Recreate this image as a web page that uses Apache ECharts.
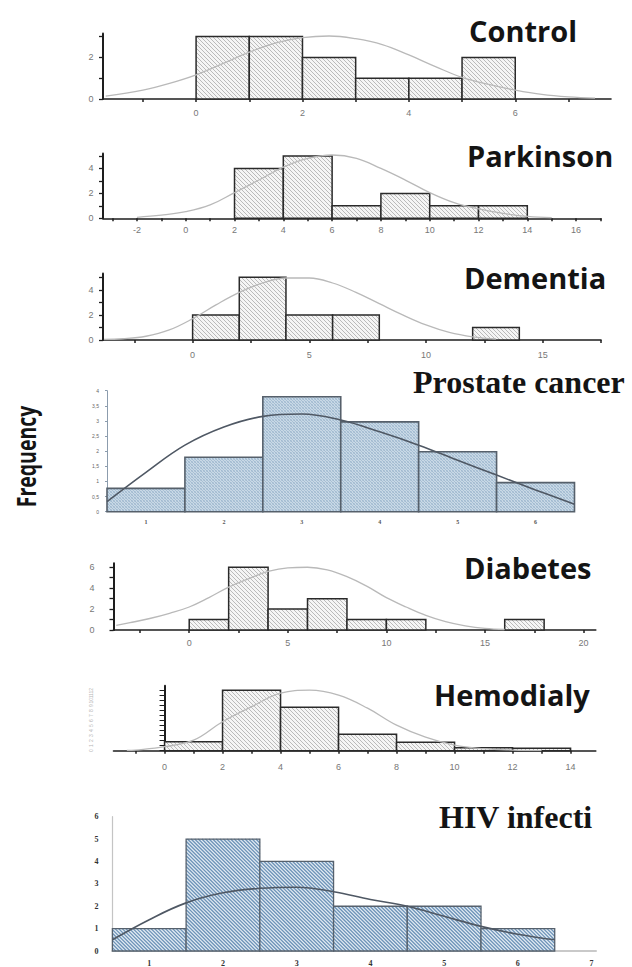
<!DOCTYPE html>
<html><head><meta charset="utf-8">
<script src="https://cdn.jsdelivr.net/npm/echarts@6/dist/echarts.min.js"></script>
<style>html,body{margin:0;padding:0;background:#fff}#c{width:632px;height:967px}</style>
</head><body><div id="c"></div>
<script>
// ---------------- data ----------------
const controlStarts = [0, 1, 2, 3, 4, 5];
const controlWidth = 1;
const controlCounts = [3, 3, 2, 1, 1, 2];
const controlCurve = [[-1.7,0.14],[-1,0.43],[-0.5,0.75],[0,1.16],[0.5,1.7],[1,2.25],[1.5,2.7],[2,2.95],[2.5,3.03],[3,2.9],[3.5,2.62],[4,2.12],[4.5,1.56],[5,1.04],[5.5,0.7],[6,0.43],[6.5,0.22],[7,0.1],[7.5,0.04]];
const controlXTicks = [-1, 0, 1, 2, 3, 4, 5, 6, 7];
const controlXLabels = [0, 2, 4, 6];
const controlYTicks = [0, 1, 2, 3];
const controlYLabels = [0, 2];

const parkinsonStarts = [2, 4, 6, 8, 10, 12];
const parkinsonWidth = 2;
const parkinsonCounts = [4, 5, 1, 2, 1, 1];
const parkinsonCurve = [[-2,0.08],[-1,0.25],[0,0.53],[1,1.07],[2,2.06],[3,3.07],[4,4.1],[5,4.8],[6,5.08],[7,4.81],[8,4.0],[9,3.07],[10,2.06],[11,1.25],[12,0.75],[13,0.4],[14,0.15],[15,0.05]];
const parkinsonXTicks = [-3,-2,-1,0,1,2,3,4,5,6,7,8,9,10,11,12,13,14,15,16,17];
const parkinsonXLabels = [-2, 0, 2, 4, 6, 8, 10, 12, 14, 16];
const parkinsonYTicks = [0, 1, 2, 3, 4, 5];
const parkinsonYLabels = [0, 2, 4];

const dementiaStarts = [0, 2, 4, 6, 12];
const dementiaWidth = 2;
const dementiaCounts = [2, 5, 2, 2, 1];
const dementiaCurve = [[-3.8,0.05],[-3,0.1],[-2,0.3],[-1,0.8],[0,1.7],[1,2.8],[2,3.8],[3,4.55],[4,4.95],[5,4.95],[6,4.55],[7,3.8],[8,2.9],[9,2.0],[10,1.2],[11,0.6],[12,0.25],[13,0.08]];
const dementiaXTicks = [-2.5, 0, 2.5, 5, 7.5, 10, 12.5, 15, 17.5];
const dementiaXLabels = [0, 5, 10, 15];
const dementiaYTicks = [0, 1, 2, 3, 4, 5];
const dementiaYLabels = [0, 2, 4];

const prostateStarts = [0.5, 1.5, 2.5, 3.5, 4.5, 5.5];
const prostateWidth = 1;
const prostateCounts = [0.77, 1.8, 3.8, 2.97, 1.98, 0.96];
const prostateCurve = [[0.5,0.33],[1,1.3],[1.5,2.2],[2,2.8],[2.5,3.15],[3,3.23],[3.5,3.03],[4,2.64],[4.5,2.2],[5,1.7],[5.5,1.21],[6,0.72],[6.5,0.25]];
const prostateXLabels = [1, 2, 3, 4, 5, 6];
const prostateYTicks = [0, 0.5, 1, 1.5, 2, 2.5, 3, 3.5, 4];

const diabetesStarts = [0, 2, 4, 6, 8, 10, 16];
const diabetesWidth = 2;
const diabetesCounts = [1, 6, 2, 3, 1, 1, 1];
const diabetesCurve = [[-3.7,0.45],[-3,0.7],[-2,1.1],[-1,1.6],[0,2.2],[1,3.1],[2,4.1],[3,4.9],[4,5.6],[5,5.95],[6,6.0],[7,5.75],[8,5.1],[9,4.2],[10,3.1],[11,2.2],[12,1.4],[13,0.8],[14,0.4],[15,0.15],[16,0.05]];
const diabetesXTicks = [-2.5, 0, 2.5, 5, 7.5, 10, 12.5, 15, 17.5, 20];
const diabetesXLabels = [0, 5, 10, 15, 20];
const diabetesYTicks = [0, 1, 2, 3, 4, 5, 6];
const diabetesYLabels = [0, 2, 4, 6];

const hemoStarts = [0, 2, 4, 6, 8, 10, 12];
const hemoWidth = 2;
const hemoCounts = [1.8, 12.1, 8.7, 3.3, 1.7, 0.6, 0.5];
const hemoCurve = [[-1.3,0.05],[-1,0.13],[0,0.8],[1,2.1],[2,5.8],[3,8.8],[4,11.5],[5,12.1],[6,11.1],[7,8.5],[8,5.1],[9,2.7],[10,1.1],[11,0.4],[12,0.13],[13,0.03]];
const hemoXTicks = [-1,0,1,2,3,4,5,6,7,8,9,10,11,12,13,14];
const hemoXLabels = [0, 2, 4, 6, 8, 10, 12, 14];
const hemoYTicks = [0,1,2,3,4,5,6,7,8,9,10,11,12,13];

const hivStarts = [0.5, 1.5, 2.5, 3.5, 4.5, 5.5];
const hivWidth = 1;
const hivCounts = [1, 5, 4, 2, 2, 1];
const hivCurve = [[0.5,0.5],[1,1.4],[1.5,2.15],[2,2.6],[2.5,2.8],[3,2.85],[3.5,2.65],[4,2.3],[4.5,2.0],[5,1.55],[5.5,1.1],[6,0.75],[6.5,0.5]];
const hivXLabels = [1, 2, 3, 4, 5, 6, 7];
const hivYLabels = [0, 1, 2, 3, 4, 5, 6];

const panelTitles = ['Control', 'Parkinson', 'Dementia', 'Prostate cancer', 'Diabetes', 'Hemodialysis', 'HIV infection'];
const yAxisTitle = 'Frequency';

// ---------------- helpers ----------------
function hatchPath(x0, y0, x1, y1, sp, dir) {
  let d = '';
  if (dir > 0) { // '\'  y = x + c
    const cmin = y0 - x1, cmax = y1 - x0;
    for (let c = Math.ceil(cmin / sp) * sp; c <= cmax; c += sp) {
      const xa = Math.max(x0, y0 - c), xb = Math.min(x1, y1 - c);
      if (xb > xa) d += 'M' + xa.toFixed(2) + ' ' + (xa + c).toFixed(2) + 'L' + xb.toFixed(2) + ' ' + (xb + c).toFixed(2);
    }
  } else { // '/'  y = -x + c
    const cmin = x0 + y0, cmax = x1 + y1;
    for (let c = Math.ceil(cmin / sp) * sp; c <= cmax; c += sp) {
      const xa = Math.max(x0, c - y1), xb = Math.min(x1, c - y0);
      if (xb > xa) d += 'M' + xa.toFixed(2) + ' ' + (c - xa).toFixed(2) + 'L' + xb.toFixed(2) + ' ' + (c - xb).toFixed(2);
    }
  }
  return d;
}

function makeRender(st) {
  return function (params, api) {
    const a = api.coord([api.value(0), api.value(2)]);
    const b = api.coord([api.value(1), 0]);
    const x0 = a[0], y0 = a[1], x1 = b[0], y1 = b[1];
    const shape = { x: x0, y: y0, width: x1 - x0, height: y1 - y0 };
    const children = [{ type: 'rect', shape: shape, style: { fill: st.fill } }];
    st.hatch.forEach(function (h) {
      const d = hatchPath(x0, y0, x1, y1, h.sp, h.dir);
      if (d) children.push({ type: 'path', shape: { pathData: d }, style: { stroke: h.color, lineWidth: h.lw, fill: null } });
    });
    children.push({ type: 'rect', shape: shape, style: { fill: null, stroke: st.stroke, lineWidth: st.lw } });
    return { type: 'group', children: children };
  };
}

const grayStyle = { fill: '#f5f5f5', stroke: '#2a2a2a', lw: 1.5, hatch: [{ sp: 4, dir: 1, color: '#a0a0a0', lw: 0.7 }] };
const prostateStyle = { fill: '#c9d9e6', stroke: '#56606b', lw: 1.6, hatch: [{ sp: 3, dir: 1, color: '#98b3ca', lw: 0.8 }, { sp: 3, dir: -1, color: '#a9c2d6', lw: 0.7 }] };
const hivStyle = { fill: '#e2ebf3', stroke: '#56616d', lw: 1.3, hatch: [{ sp: 3.6, dir: 1, color: '#6d93b8', lw: 1.3 }] };

const grids = [
  { left: 103, top: 33.5, width: 508, height: 65.5 },
  { left: 103, top: 153.5, width: 498, height: 64.8 },
  { left: 103, top: 273.6, width: 498, height: 66.4 },
  { left: 107, top: 390.7, width: 467.5, height: 121 },
  { left: 113.5, top: 563.3, width: 482.3, height: 66.7 },
  { left: 113.5, top: 685.7, width: 482.3, height: 65 },
  { left: 112.4, top: 816.7, width: 483.6, height: 134.3 }
];

const lblFont = { fontFamily: 'Liberation Sans', fontSize: 9, color: '#777' };

function grayX(gi, min, max, ticks, labels, margin) {
  return { gridIndex: gi, type: 'value', min: min, max: max,
    axisLine: { onZero: false, lineStyle: { color: '#1e1e1e', width: 1.6 } },
    axisTick: { show: true, customValues: ticks, length: 3, lineStyle: { color: '#1e1e1e', width: 1.5 } },
    axisLabel: Object.assign({ customValues: labels, margin: margin }, lblFont),
    splitLine: { show: false } };
}
function grayY(gi, max, ticks, labels, margin) {
  return { gridIndex: gi, type: 'value', min: 0, max: max,
    axisLine: { show: true, onZero: false, lineStyle: { color: '#1e1e1e', width: 2 } },
    axisTick: { show: true, customValues: ticks, length: 4, lineStyle: { color: '#1e1e1e', width: 1.3 } },
    axisLabel: Object.assign({ customValues: labels, margin: margin }, lblFont),
    splitLine: { show: false } };
}

const xAxes = [
  grayX(0, -1.75, 7.8, controlXTicks, controlXLabels, 9.5),
  grayX(1, -3.39, 17.02, parkinsonXTicks, parkinsonXLabels, 7.5),
  grayX(2, -3.84, 17.5, dementiaXTicks, dementiaXLabels, 10.5),
  { gridIndex: 3, type: 'value', min: 0.5, max: 6.5,
    axisLine: { show: false }, axisTick: { show: false }, splitLine: { show: false },
    axisLabel: { customValues: prostateXLabels, margin: 7, fontFamily: 'Liberation Serif', fontWeight: 'bold', fontSize: 6, color: '#555' } },
  grayX(4, -3.84, 20.62, diabetesXTicks, diabetesXLabels, 8.5),
  grayX(5, -1.76, 14.87, hemoXTicks, hemoXLabels, 11.5),
  { gridIndex: 6, type: 'value', min: 0.5, max: 7.06,
    axisLine: { onZero: false, lineStyle: { color: '#c9c9c9', width: 2 } }, axisTick: { show: false }, splitLine: { show: false },
    axisLabel: { customValues: hivXLabels, margin: 8, fontFamily: 'Liberation Serif', fontWeight: 'bold', fontSize: 8, color: '#333' } }
];

const yAxes = [
  grayY(0, 3.15, controlYTicks, controlYLabels, 9.5),
  grayY(1, 5.2, parkinsonYTicks, parkinsonYLabels, 9.5),
  grayY(2, 5.3, dementiaYTicks, dementiaYLabels, 9.5),
  { gridIndex: 3, type: 'value', min: 0, max: 4,
    axisLine: { show: true, lineStyle: { color: '#8c9cad', width: 1 } },
    axisTick: { show: true, customValues: prostateYTicks, length: 2, lineStyle: { color: '#8c9cad' } },
    axisLabel: { customValues: prostateYTicks, margin: 8, fontFamily: 'Liberation Sans', fontSize: 5, color: '#666',
      formatter: function (v) { return String(v).replace('.', ','); } },
    splitLine: { show: false } },
  grayY(4, 6.38, diabetesYTicks, diabetesYLabels, 19),
  { gridIndex: 5, type: 'value', min: 0, max: 13,
    axisLine: { show: true, lineStyle: { color: '#1e1e1e', width: 2 } },
    axisTick: { show: true, customValues: hemoYTicks, length: 5, lineStyle: { color: '#1e1e1e', width: 1 } },
    axisLabel: { customValues: hemoYTicks, margin: 20, rotate: 90, fontFamily: 'Liberation Sans', fontSize: 5, color: '#b5b5b5' },
    splitLine: { show: false } },
  { gridIndex: 6, type: 'value', min: 0, max: 6,
    axisLine: { show: true, lineStyle: { color: '#c4c4c4', width: 1.2 } },
    axisTick: { show: false },
    axisLabel: { customValues: hivYLabels, margin: 14, fontFamily: 'Liberation Serif', fontWeight: 'bold', fontSize: 8, color: '#333' },
    splitLine: { show: false } }
];

const panels = [
  [controlStarts, controlWidth, controlCounts, controlCurve, grayStyle, '#b9b9b9', 1.3],
  [parkinsonStarts, parkinsonWidth, parkinsonCounts, parkinsonCurve, grayStyle, '#b9b9b9', 1.3],
  [dementiaStarts, dementiaWidth, dementiaCounts, dementiaCurve, grayStyle, '#b9b9b9', 1.3],
  [prostateStarts, prostateWidth, prostateCounts, prostateCurve, prostateStyle, '#4f5864', 1.6],
  [diabetesStarts, diabetesWidth, diabetesCounts, diabetesCurve, grayStyle, '#b9b9b9', 1.3],
  [hemoStarts, hemoWidth, hemoCounts, hemoCurve, grayStyle, '#b9b9b9', 1.3],
  [hivStarts, hivWidth, hivCounts, hivCurve, hivStyle, '#4f5864', 1.6]
];

const series = [];
panels.forEach(function (p, i) {
  const starts = p[0], w = p[1], counts = p[2];
  series.push({ type: 'custom', xAxisIndex: i, yAxisIndex: i, silent: true, z: 2,
    renderItem: makeRender(p[4]), encode: { x: [0, 1], y: 2 },
    data: starts.map(function (s, k) { return [s, s + w, counts[k]]; }) });
  series.push({ type: 'line', xAxisIndex: i, yAxisIndex: i, silent: true, z: 5, smooth: 0.4,
    showSymbol: false, data: p[3], lineStyle: { color: p[5], width: p[6] } });
});

const sansTitle = 'bold 29px "Open Sans"';
const serifTitle = 'bold 32px "Liberation Serif"';
const titlePos = [[469, 30, sansTitle, 200], [467, 155, sansTitle, 200], [464, 277.5, sansTitle, 200],
  [413, 382, serifTitle, 260], [464, 567, sansTitle, 200], [434, 694, sansTitle, 162], [439, 817, serifTitle, 166]];
const graphics = titlePos.map(function (t, i) {
  return { type: 'text', x: t[0], y: t[1], silent: true,
    style: { text: panelTitles[i], font: t[2], fill: '#141414', textVerticalAlign: 'middle', width: t[3], overflow: 'truncate', ellipsis: '' } };
});
graphics.push({ type: 'text', x: 25.5, y: 456.5, rotation: Math.PI / 2, scaleX: 0.75, silent: true,
  style: { text: yAxisTitle, font: 'bold 26px "Open Sans"', fill: '#141414', textAlign: 'center', textVerticalAlign: 'middle' } });

const chart = echarts.init(document.getElementById('c'), null, { renderer: 'svg' });
chart.setOption({
  animation: false,
  backgroundColor: '#ffffff',
  grid: grids,
  xAxis: xAxes,
  yAxis: yAxes,
  series: series,
  graphic: graphics
});
</script></body></html>
